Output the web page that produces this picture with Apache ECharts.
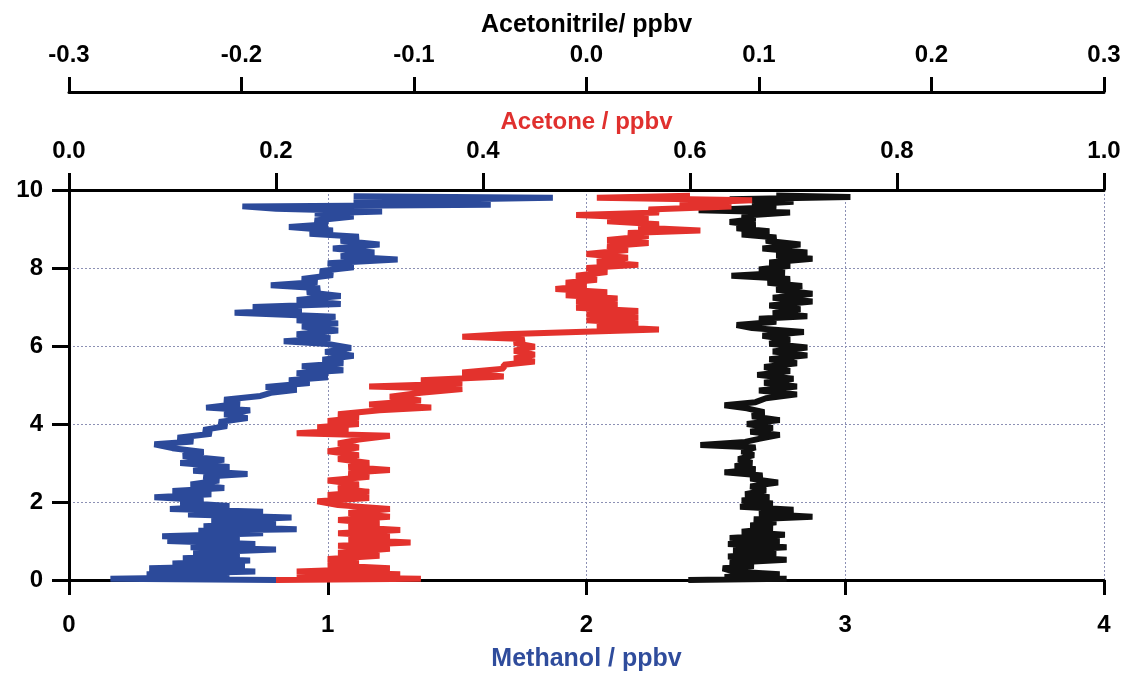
<!DOCTYPE html>
<html><head><meta charset="utf-8">
<script src="https://cdn.jsdelivr.net/npm/echarts@6/dist/echarts.min.js"></script>
<style>html,body{margin:0;padding:0;background:#fff}#c{width:1123px;height:675px}</style>
</head><body><div id="c"></div>
<script>
// Axis ranges / tick labels
const altitudeTicks = [0, 2, 4, 6, 8, 10];
const methanolTicks = [0, 1, 2, 3, 4];
const acetoneTicks = [0.0, 0.2, 0.4, 0.6, 0.8, 1.0];
const acetonitrileTicks = [-0.3, -0.2, -0.1, 0.0, 0.1, 0.2, 0.3];

// Methanol profile (ppbv) vs altitude
const methanolAlt = [0.00,0.03,0.08,0.15,0.22,0.30,0.36,0.42,0.50,0.56,0.62,0.70,0.78,0.84,0.92,1.00,1.06,1.12,1.20,1.26,1.30,1.38,1.46,1.52,1.60,1.68,1.75,1.82,1.90,1.98,2.05,2.12,2.20,2.28,2.36,2.45,2.55,2.65,2.72,2.80,2.90,3.00,3.08,3.18,3.28,3.38,3.48,3.55,3.65,3.75,3.85,3.95,4.05,4.15,4.25,4.35,4.42,4.52,4.62,4.72,4.80,4.88,4.95,5.05,5.12,5.20,5.30,5.38,5.48,5.56,5.65,5.75,5.85,5.95,6.05,6.12,6.20,6.30,6.40,6.50,6.58,6.66,6.75,6.85,6.92,7.00,7.08,7.18,7.28,7.38,7.48,7.56,7.64,7.72,7.82,7.92,8.02,8.12,8.22,8.30,8.40,8.50,8.60,8.70,8.80,8.88,8.96,9.05,9.12,9.22,9.32,9.40,9.45,9.52,9.58,9.62,9.68,9.74,9.80,9.84];
const methanolVal = [0.80,0.16,0.62,0.30,0.72,0.31,0.68,0.40,0.70,0.44,0.66,0.48,0.80,0.47,0.72,0.38,0.66,0.36,0.75,0.50,0.88,0.52,0.80,0.55,0.86,0.46,0.75,0.39,0.62,0.43,0.52,0.33,0.55,0.40,0.60,0.47,0.58,0.52,0.69,0.48,0.62,0.43,0.60,0.44,0.52,0.40,0.33,0.48,0.42,0.55,0.52,0.61,0.58,0.69,0.60,0.70,0.53,0.66,0.60,0.74,0.78,0.88,0.76,0.93,0.85,1.00,0.88,1.06,0.90,1.06,0.98,1.10,0.99,1.09,1.00,0.83,1.01,0.88,1.04,0.90,1.04,0.88,1.03,0.64,0.90,0.71,1.05,0.88,1.05,0.92,0.97,0.78,0.96,0.90,1.02,0.97,1.10,1.00,1.27,1.05,1.18,1.02,1.20,1.05,1.12,0.93,1.02,0.85,1.00,0.95,1.10,0.95,1.21,0.80,0.67,1.63,1.10,1.30,1.87,1.10];

// Acetone profile (ppbv) vs altitude
const acetoneAlt = [0.00,0.03,0.08,0.15,0.22,0.30,0.38,0.46,0.54,0.62,0.70,0.80,0.88,0.96,1.04,1.12,1.20,1.28,1.36,1.45,1.54,1.62,1.72,1.82,1.92,2.02,2.10,2.18,2.26,2.35,2.45,2.55,2.65,2.75,2.82,2.90,3.00,3.10,3.20,3.30,3.40,3.50,3.60,3.70,3.76,3.84,3.92,4.00,4.08,4.16,4.25,4.35,4.42,4.50,4.60,4.70,4.80,4.90,4.96,5.04,5.12,5.22,5.32,5.42,5.52,5.60,5.68,5.78,5.88,5.98,6.08,6.18,6.24,6.30,6.36,6.42,6.50,6.58,6.66,6.74,6.82,6.90,6.98,7.06,7.14,7.22,7.30,7.38,7.46,7.54,7.62,7.70,7.80,7.90,8.00,8.08,8.16,8.26,8.36,8.46,8.56,8.64,8.72,8.82,8.90,8.96,9.04,9.12,9.20,9.28,9.36,9.42,9.50,9.58,9.66,9.74,9.80,9.85];
const acetoneVal = [0.20,0.34,0.22,0.32,0.22,0.31,0.25,0.28,0.25,0.30,0.26,0.31,0.26,0.33,0.27,0.31,0.26,0.32,0.27,0.30,0.26,0.31,0.27,0.31,0.26,0.24,0.29,0.25,0.29,0.26,0.28,0.25,0.29,0.27,0.31,0.27,0.29,0.26,0.28,0.25,0.28,0.26,0.28,0.31,0.22,0.27,0.24,0.28,0.25,0.28,0.26,0.30,0.35,0.29,0.34,0.31,0.34,0.38,0.29,0.38,0.34,0.42,0.38,0.42,0.42,0.45,0.43,0.45,0.43,0.45,0.43,0.44,0.38,0.42,0.49,0.57,0.51,0.55,0.50,0.55,0.50,0.55,0.49,0.53,0.49,0.53,0.48,0.52,0.47,0.50,0.48,0.51,0.49,0.52,0.50,0.55,0.51,0.54,0.50,0.54,0.52,0.56,0.52,0.56,0.54,0.61,0.55,0.57,0.52,0.56,0.49,0.57,0.56,0.64,0.59,0.66,0.51,0.60];

// Acetonitrile profile (ppbv) vs altitude
const acetonitrileAlt = [0.00,0.03,0.08,0.15,0.22,0.30,0.36,0.44,0.52,0.60,0.68,0.76,0.84,0.92,1.00,1.08,1.16,1.24,1.32,1.40,1.48,1.56,1.62,1.70,1.80,1.88,1.96,2.04,2.12,2.20,2.30,2.40,2.50,2.60,2.68,2.76,2.84,2.92,3.00,3.10,3.20,3.30,3.40,3.46,3.54,3.62,3.72,3.80,3.90,4.00,4.10,4.20,4.30,4.40,4.48,4.56,4.66,4.76,4.86,4.96,5.06,5.16,5.26,5.36,5.46,5.56,5.66,5.76,5.86,5.96,6.06,6.16,6.26,6.36,6.46,6.54,6.62,6.70,6.76,6.84,6.94,7.04,7.14,7.24,7.34,7.44,7.54,7.62,7.72,7.80,7.88,7.96,8.06,8.14,8.24,8.32,8.40,8.50,8.60,8.70,8.78,8.86,8.94,9.02,9.10,9.18,9.26,9.34,9.42,9.48,9.56,9.64,9.70,9.76,9.82,9.86];
const acetonitrileVal = [0.059,0.116,0.080,0.112,0.085,0.079,0.097,0.083,0.116,0.082,0.110,0.085,0.116,0.082,0.112,0.083,0.115,0.090,0.108,0.095,0.110,0.097,0.131,0.100,0.120,0.089,0.108,0.090,0.106,0.092,0.104,0.095,0.111,0.095,0.102,0.080,0.098,0.086,0.096,0.088,0.097,0.090,0.098,0.066,0.092,0.100,0.112,0.095,0.108,0.093,0.112,0.096,0.103,0.093,0.080,0.098,0.104,0.122,0.100,0.122,0.103,0.120,0.099,0.118,0.103,0.122,0.106,0.128,0.108,0.128,0.106,0.118,0.102,0.126,0.096,0.087,0.110,0.100,0.128,0.108,0.124,0.106,0.131,0.108,0.131,0.110,0.125,0.105,0.118,0.084,0.115,0.100,0.118,0.106,0.131,0.110,0.128,0.102,0.124,0.104,0.110,0.090,0.106,0.087,0.098,0.083,0.098,0.090,0.118,0.065,0.110,0.096,0.120,0.083,0.153,0.110];

const zip = (vals, alts) => vals.map((v, i) => [v, alts[i]]);
const FONT = 'Liberation Sans';
const fmt1 = v => (Math.abs(v) < 1e-9 ? 0 : v).toFixed(1);
const gridLine = { show: true, lineStyle: { color: '#8c90b4', type: [2, 2], width: 1 } };
const tickFont = { color: '#000', fontFamily: FONT, fontWeight: 'bold', fontSize: 24 };

const chart = echarts.init(document.getElementById('c'), null, { renderer: 'canvas' });
chart.setOption({
  animation: false,
  backgroundColor: '#ffffff',
  grid: { left: 69, right: 19, top: 190, bottom: 95, containLabel: false, outerBoundsMode: 'none' },
  xAxis: [
    {
      type: 'value', position: 'bottom',
      min: methanolTicks[0], max: methanolTicks[methanolTicks.length - 1], interval: 1,
      name: 'Methanol / ppbv', nameLocation: 'middle', nameGap: 67,
      nameTextStyle: { color: '#2f4c9c', fontFamily: FONT, fontWeight: 'bold', fontSize: 25 },
      axisLine: { show: true, onZero: false, lineStyle: { color: '#000', width: 3 } },
      axisTick: { show: true, length: 15, lineStyle: { color: '#000', width: 3 } },
      axisLabel: Object.assign({ margin: 33 }, tickFont),
      splitLine: gridLine
    },
    {
      type: 'value', position: 'top',
      min: acetoneTicks[0], max: acetoneTicks[acetoneTicks.length - 1], interval: 0.2,
      name: 'Acetone / ppbv', nameLocation: 'middle', nameGap: 50,
      nameTextStyle: { color: '#e0302e', fontFamily: FONT, fontWeight: 'bold', fontSize: 24 },
      axisLine: { show: true, onZero: false, lineStyle: { color: '#000', width: 3 } },
      axisTick: { show: true, length: 17, lineStyle: { color: '#000', width: 3 } },
      axisLabel: Object.assign({ margin: 27, formatter: fmt1 }, tickFont),
      splitLine: { show: false }
    },
    {
      type: 'value', position: 'top', offset: 98,
      min: acetonitrileTicks[0], max: acetonitrileTicks[acetonitrileTicks.length - 1], interval: 0.1,
      name: 'Acetonitrile/ ppbv', nameLocation: 'middle', nameGap: 54,
      nameTextStyle: { color: '#000', fontFamily: FONT, fontWeight: 'bold', fontSize: 25 },
      axisLine: { show: true, onZero: false, lineStyle: { color: '#000', width: 3 } },
      axisTick: { show: true, length: 15, lineStyle: { color: '#000', width: 3 } },
      axisLabel: Object.assign({ margin: 25, formatter: fmt1 }, tickFont),
      splitLine: { show: false }
    }
  ],
  yAxis: {
    type: 'value',
    min: altitudeTicks[0], max: altitudeTicks[altitudeTicks.length - 1], interval: 2,
    axisLine: { show: true, onZero: false, lineStyle: { color: '#000', width: 3 } },
    axisTick: { show: true, length: 17, lineStyle: { color: '#000', width: 3 } },
    axisLabel: Object.assign({ margin: 26 }, tickFont),
    splitLine: gridLine
  },
  series: [
    { name: 'Acetonitrile', type: 'line', xAxisIndex: 2, data: zip(acetonitrileVal, acetonitrileAlt),
      showSymbol: false, lineStyle: { color: '#111111', width: 6, join: 'bevel' }, z: 3 },
    { name: 'Methanol', type: 'line', xAxisIndex: 0, data: zip(methanolVal, methanolAlt),
      showSymbol: false, lineStyle: { color: '#2c4a9a', width: 6, join: 'bevel' }, z: 4 },
    { name: 'Acetone', type: 'line', xAxisIndex: 1, data: zip(acetoneVal, acetoneAlt),
      showSymbol: false, lineStyle: { color: '#e3322d', width: 6, join: 'bevel' }, z: 5 }
  ]
});
</script>
</body></html>
